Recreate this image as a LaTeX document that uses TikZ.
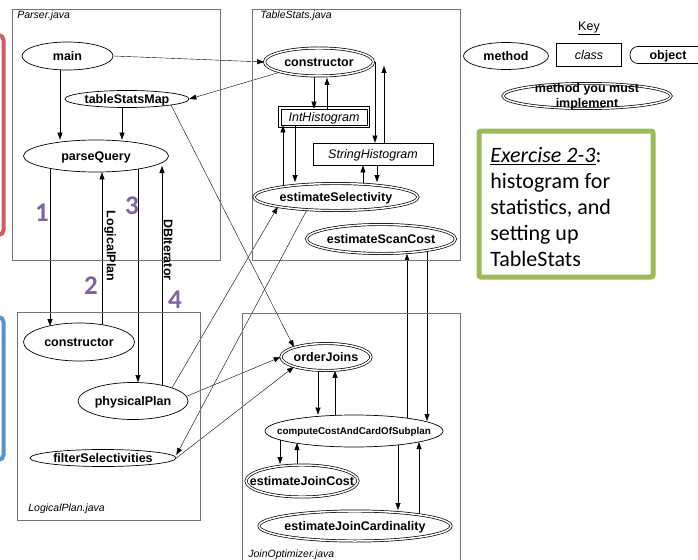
\documentclass[tikz,border=0pt]{standalone}
\usepackage{fontspec}
\setmainfont{Liberation Sans}
\newfontfamily\calibri{Carlito}
\usetikzlibrary{shapes.geometric,arrows.meta,backgrounds}

\definecolor{stepviolet}{RGB}{128,100,162}
\definecolor{notered}{RGB}{205,96,92}
\definecolor{noteblue}{RGB}{91,146,205}
\definecolor{notegreen}{RGB}{155,187,89}

\newcommand{\fitin}[1]{\raisebox{-0.36em}[0pt][0pt]{\makebox[0pt]{#1}}}

\begin{document}
\begin{tikzpicture}[x=1pt, y=-1pt, line width=0.7pt,
    method/.style={ellipse, draw, fill=white, inner sep=0pt, font=\bfseries\fontsize{12.5}{14}\selectfont},
    mustdo/.style={method, double, double distance=1.5pt},
    klass/.style={rectangle, draw, fill=white, inner sep=0pt, font=\itshape\fontsize{12.5}{14}\selectfont},
    instance/.style={rectangle, rounded corners=8pt, draw, fill=white, inner sep=0pt, font=\bfseries\fontsize{12.5}{14}\selectfont},
    filebox/.style={draw=black!55},
    filename/.style={anchor=base west, inner sep=0pt, font=\itshape\fontsize{10.5}{12}\selectfont},
    call/.style={-{Triangle[length=7pt,width=5pt]}},
    stepno/.style={text=stepviolet, inner sep=0pt, font=\calibri\bfseries\fontsize{27}{27}\selectfont},
    retval/.style={rotate=-90, inner sep=0pt, font=\bfseries\fontsize{12.5}{14}\selectfont}]

    \useasboundingbox (0,0) rectangle (698,559);

    % notes cut off on the left
    \draw[notered, line width=4pt, rounded corners=5pt] (-30,35) rectangle (3.5,235);
    \draw[noteblue, line width=4pt, rounded corners=5pt] (-30,317) rectangle (3.5,460);

    % Parser.java
    \draw[filebox] (12,9) rectangle (220,260);
    \node[filename] (parserfile) at (17,19) {Parser.java};
    \node[method, minimum width=91, minimum height=28] (main) at (67.5,56) {\fitin{main}};
    \node[method, minimum width=124, minimum height=17] (tsmap) at (127,99) {\fitin{tableStatsMap}};
    \node[method, minimum width=145, minimum height=32] (pquery) at (96,156) {\fitin{parseQuery}};

    % TableStats.java
    \draw[filebox] (252,9) rectangle (460,260);
    \node[filename] (statsfile) at (260,19) {TableStats.java};
    \node[mustdo, minimum width=109, minimum height=28] (tcons) at (319,62) {\fitin{constructor}};
    \node[klass, minimum width=86, minimum height=16] (ihist) at (324,117) {\fitin{IntHistogram}};
    \draw ([shift={(-2.4,-2.4)}]ihist.north west) rectangle ([shift={(2.4,2.4)}]ihist.south east);
    \node[klass, minimum width=120, minimum height=22] (shist) at (373,154) {\fitin{StringHistogram}};
    \node[mustdo, minimum width=164, minimum height=27] (esel) at (336,197) {\fitin{estimateSelectivity}};
    \node[mustdo, minimum width=149, minimum height=29] (escan) at (381,239) {\fitin{estimateScanCost}};

    % LogicalPlan.java
    \draw[filebox] (17,312) rectangle (200,520);
    \node[filename] (logicalfile) at (28,511) {LogicalPlan.java};
    \node[method, minimum width=111, minimum height=38] (lcons) at (79,342) {\fitin{constructor}};
    \node[method, minimum width=110, minimum height=37] (pplan) at (133,401) {\fitin{physicalPlan}};
    \node[method, minimum width=146, minimum height=17] (fsel) at (103,458) {\fitin{filterSelectivities}};

    % JoinOptimizer.java
    \draw[filebox] (242,313) rectangle (460,570);
    \node[filename] (joinfile) at (248,557) {JoinOptimizer.java};
    \node[mustdo, minimum width=90, minimum height=27] (ojoins) at (326,357) {\fitin{orderJoins}};
    \node[method, minimum width=178, minimum height=32, font=\bfseries\fontsize{9.8}{11}\selectfont] (ccost) at (354,431) {\fitin{computeCostAndCardOfSubplan}};
    \node[mustdo, minimum width=112, minimum height=32] (ejcost) at (302,481) {\fitin{estimateJoinCost}};
    \node[mustdo, minimum width=192, minimum height=30] (ejcard) at (355,526) {\fitin{estimateJoinCardinality}};

    % steps between parser and plan
    \node[stepno] (stepone) at (42,213) {1};
    \node[stepno] (steptwo) at (91,286) {2};
    \node[stepno] (stepthree) at (132,206) {3};
    \node[stepno] (stepfour) at (175,300) {4};
    \node[retval] (lplabel) at (110,246) {LogicalPlan};
    \node[retval] (itlabel) at (168,250) {DBIterator};

    \begin{scope}[on background layer]
        \draw[call] ([xshift=-7.5]main.center) -- ([xshift=-7.5]main.center |- pquery.north);
        \draw[call] ([xshift=-5]tsmap.center) -- ([xshift=-5]tsmap.center |- pquery.north);
        \draw[call] (main.east) -- (tcons.west);
        \draw[call] (tcons.south west) -- (tsmap.east);
        \draw[call] (tsmap.south east) -- (ojoins.north west);

        \draw[call] ([xshift=-46]pquery.center) -- ([shift={(-29,-16)}]lcons.center);
        \draw[call] ([xshift=23]lcons.center) -- ([xshift=6]pquery.south);
        \draw[call] ([xshift=42]pquery.center) -- ([xshift=5]pplan.north);
        \draw[call] ([xshift=29]pplan.center) -- ([shift={(66,10)}]pquery.center);

        \draw[call] ([xshift=-5]tcons.center) -- ([xshift=-5]tcons.center |- ihist.north);
        \draw[call] ([xshift=3]ihist.center) -- ([shift={(8,16)}]tcons.center);
        \draw[call] ([xshift=56]tcons.center) -- ([xshift=56]tcons.center |- shist.north);
        \draw[call] ([xshift=11]shist.north) -- ([shift={(65,4)}]tcons.center);
        \draw[call] ([xshift=-29]ihist.center) -- ([shift={(-41,-15)}]esel.center);
        \draw[call] ([xshift=-53]esel.center) -- ([xshift=-53]esel.center |- ihist.south);
        \draw[call] ([xshift=27]esel.center) -- ([xshift=27]esel.center |- shist.south);
        \draw[call] ([xshift=4]shist.center) -- ([shift={(41,-15)}]esel.center);

        \draw[call] (pplan.north east) -- (esel.south west);
        \draw[call] (esel.204) -- ([yshift=3]fsel.east);
        \draw[call] (pplan.5) -- (ojoins.west);
        \draw[call] (fsel.east) -- (ojoins.south west);

        \draw[call] ([xshift=-8]ojoins.center) -- ([xshift=-8]ojoins.center |- ccost.north);
        \draw[call] ([xshift=-19]ccost.center) -- ([xshift=-19]ccost.center |- ojoins.south);
        \draw[call] ([xshift=-74]ccost.center) -- ([shift={(-22,-17)}]ejcost.center);
        \draw[call] ([xshift=-5]ejcost.center) -- ([shift={(-57,12)}]ccost.center);
        \draw[call] ([xshift=44]ccost.center) -- ([shift={(43,-16)}]ejcard.center);
        \draw[call] ([xshift=64]ejcard.center) -- ([shift={(65,11)}]ccost.center);
        \draw[call] ([xshift=53]ccost.center) -- ([xshift=26]escan.south);
        \draw[call] ([xshift=46]escan.center) -- ([shift={(73,-10)}]ccost.center);
    \end{scope}

    % key
    \node[inner sep=0pt, font=\fontsize{12.5}{14}\selectfont] (keytitle) at (589,28) {\underline{Key}};
    \node[method, minimum width=85, minimum height=27] (keymethod) at (506,56) {\fitin{method}};
    \node[klass, minimum width=65, minimum height=23] (keyclass) at (589,55) {\fitin{\mdseries class}};
    \node[instance, minimum width=76, minimum height=17] (keyobject) at (668,55) {\fitin{object}};
    \node[mustdo, minimum width=168, minimum height=25] (keyimpl) at (587,96) {};
    \node[inner sep=0pt, align=center, font=\bfseries\fontsize{12.5}{15}\selectfont] (keyimpltext) at (587,97) {method you must\\implement};

    % exercise note
    \draw[notegreen, line width=5pt, rounded corners=2pt] (479,131) rectangle (653,277);
    \node[anchor=north west, inner sep=0pt, align=left, font=\calibri\fontsize{22}{26}\selectfont] (exercise) at (490,147)
        {\underline{\textit{Exercise 2-3}}:\\histogram for\\statistics, and\\setting up\\TableStats};
\end{tikzpicture}
\end{document}
